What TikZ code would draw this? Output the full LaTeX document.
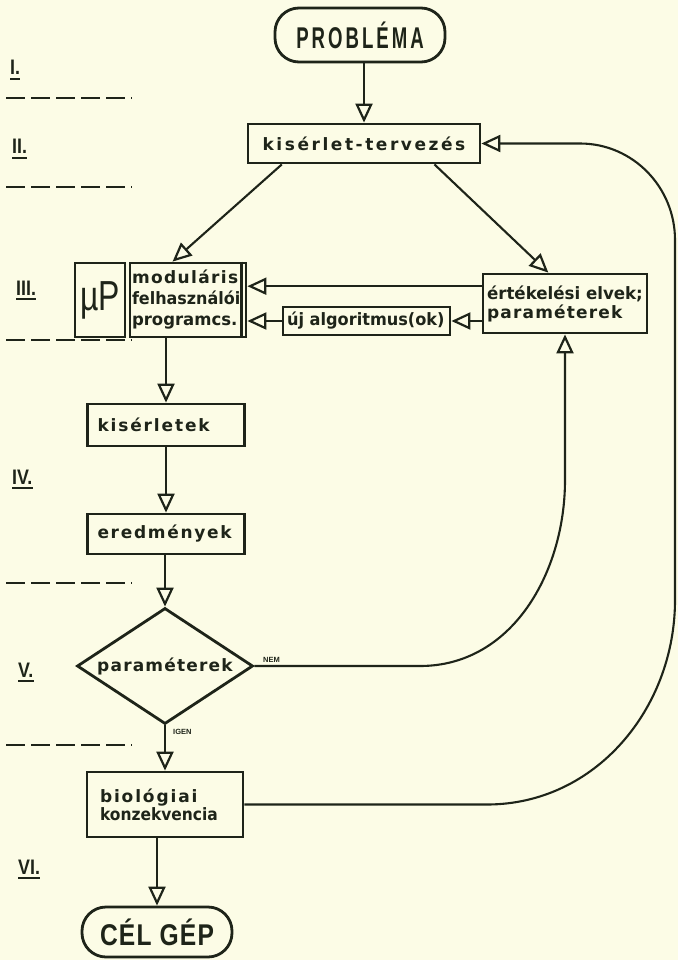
\documentclass[tikz,border=0pt]{standalone}
\usepackage{fontspec}
\usetikzlibrary{arrows.meta,shapes.geometric,calc}
\newfontfamily\lsans{Liberation Sans}
\newfontfamily\dsans{DejaVu Sans}
\newfontfamily\numfam[FakeStretch=0.85]{Liberation Sans}
\newfontfamily\pillfam[FakeStretch=0.62,LetterSpace=10]{Liberation Sans}
\newfontfamily\celfam[FakeStretch=0.82,LetterSpace=4]{Liberation Sans}
\newfontfamily\mufam[FakeStretch=0.76]{Liberation Sans}
\definecolor{ink}{HTML}{1E2419}
\definecolor{paper}{HTML}{FCFCE6}
% letter spacing (and squeeze) for the box texts
\newcommand\trk[3][1]{{\addfontfeature{LetterSpace=#2,FakeStretch=#1}#3}}
\tikzset{
  box/.style={draw=ink, line width=2.8pt, inner sep=0pt, text=ink,
    font=\dsans\bfseries\fontsize{17}{21}\selectfont},
  pill/.style={draw=ink, line width=2.8pt, rounded corners=24pt, text=ink, inner sep=0pt},
  arr/.style={draw=ink, line width=2.1pt,
    -{Triangle[open, length=19pt, width=17pt, line width=2.2pt]}},
  sep/.style={draw=ink, line width=2pt, dash pattern=on 19pt off 6pt},
  num/.style={anchor=base west, inner sep=0pt, text=ink,
    font=\numfam\bfseries\fontsize{21}{22}\selectfont},
  uline/.style={draw=ink, line width=2.6pt},
  tag/.style={inner sep=0pt, text=ink, font=\lsans\bfseries\fontsize{7.5}{8}\selectfont},
}
\begin{document}
\begin{tikzpicture}[x=1pt, y=-1pt]
\fill[paper] (0,0) rectangle (678,960);
\useasboundingbox (0,0) rectangle (678,960);

% stages
\node[num] (n1) at (10,75) {I.};
\node[num] (n2) at (12,154) {II.};
\node[num] (n3) at (16,295) {III.};
\node[num] (n4) at (12,484) {IV.};
\node[num] (n5) at (18,677) {V.};
\node[num] (n6) at (18,874) {VI.};
\foreach \n in {n1,n2,n3,n4,n5,n6}
  \draw[uline] ([yshift=-4pt]\n.base west) -- ([yshift=-4pt]\n.base east);
\foreach \y in {98,187,340,583,745}
  \draw[sep] (6,\y) -- (132,\y);

% nodes
\node[pill, minimum width=170pt, minimum height=54pt,
  font=\pillfam\bfseries\fontsize{30}{30}\selectfont] (prob) at (360,35) {PROBLÉMA};
\node[box, minimum width=232pt, minimum height=39pt] (kis) at (364,143.5)
  {\trk{15}{kisérlet-tervezés}};
\node[box, minimum width=50pt, minimum height=74pt,
  font=\mufam\fontsize{42}{42}\selectfont] (mup) at (100,300) {µP};
\node[box, minimum height=74pt, inner xsep=2pt, text width=112pt, align=left]
  (prog) at (188,300)
  {\trk{8}{moduláris}\\\trk[0.94]{0}{felhasználói}\\\trk[0.97]{0}{programcs.}};
\draw[draw=ink, line width=2.8pt] ([xshift=-6pt]prog.north east) -- ([xshift=-6pt]prog.south east);
\node[box, minimum height=59pt, inner xsep=4pt, text width=156pt, align=left]
  (ert) at (565,303.5) {\trk[0.98]{0}{értékelési elvek;}\\[-2pt]\trk{7}{paraméterek}};
\node[box, minimum height=28pt, inner xsep=4pt, text width=159pt, align=left]
  (alg) at (366.5,321) {\trk[0.95]{0}{új algoritmus(ok)}};
\node[box, minimum height=42pt, inner xsep=10pt, text width=137pt, align=left]
  (kisl) at (166,425) {\trk{11}{kisérletek}};
\node[box, minimum height=40pt, inner xsep=10pt, text width=137pt, align=left]
  (ered) at (166,534) {\trk{10}{eredmények}};
\node[box, shape=diamond, aspect=1.52, minimum width=176pt, minimum height=116pt]
  (dia) at (165,666) {\trk{7}{paraméterek}};
\node[box, minimum height=65pt, inner xsep=13pt, text width=130pt, align=left]
  (bio) at (165,804.5) {\trk{11}{biológiai}\\[-3pt]\trk[0.91]{0}{konzekvencia}};
\node[pill, minimum width=150pt, minimum height=50pt,
  font=\celfam\bfseries\fontsize{30}{30}\selectfont] (cel) at (157,932) {CÉL GÉP};

\node[tag, anchor=south west] (nem) at (263,663) {NEM};
\node[tag, anchor=north west] (igen) at (173,729) {IGEN};

% bends of the long connectors
\coordinate (nemA) at (420,666);
\coordinate (nemB) at (565,480);
\coordinate (bioA) at (487,804.5);
\coordinate (bioB) at (675,600);
\coordinate (bioC) at (675,240);
\coordinate (bioD) at (580,143.5);
\coordinate (ertin) at ($(ert.north west)!0.22!(ert.south west)$);

% connectors
\draw[arr] (kis.north |- prob.south) -- (kis.north);
\draw[arr] ($(kis.south west)!0.15!(kis.south east)$) -- ($(prog.north west)!0.37!(prog.north east)$);
\draw[arr] ($(kis.south west)!0.80!(kis.south east)$) -- ($(ert.north west)!0.40!(ert.north east)$);
\draw[arr] (ertin) -- (ertin -| prog.east);
\draw[arr] (ert.west |- alg) -- (alg.east);
\draw[arr] (alg.west) -- (alg -| prog.east);
\draw[arr] (kisl.north |- prog.south) -- (kisl.north);
\draw[arr] (kisl) -- (ered);
\draw[arr] (dia.north |- ered.south) -- (dia.north);
\draw[arr] (dia.south) -- (dia.south |- bio.north);
\draw[arr] (cel.north |- bio.south) -- (cel.north);
\draw[arr] (dia.east) -- (nemA) to[out=0, in=-90] (nemB) -- (ert.south);
\draw[arr] (bio.east) -- (bioA) to[out=0, in=-90] (bioB) -- (bioC)
  to[out=90, in=0] (bioD) -- (kis.east);
\end{tikzpicture}
\end{document}
